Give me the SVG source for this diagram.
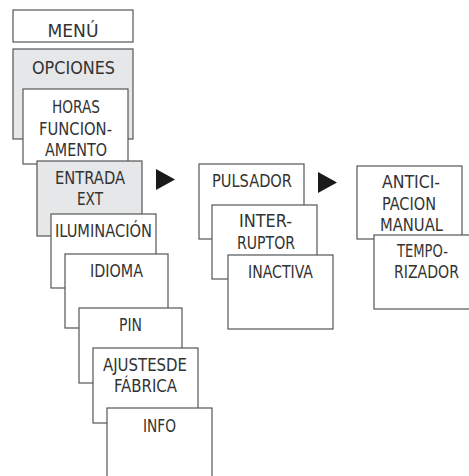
<svg xmlns="http://www.w3.org/2000/svg" width="469" height="476" viewBox="0 0 469 476">
<style>
.b{fill:#ffffff;stroke:#555555;stroke-width:1.2}
.g{fill:#e6e7e9;stroke:#555555;stroke-width:1.2}
text{font-family:"DejaVu Sans Condensed","DejaVu Sans",sans-serif;font-stretch:condensed;font-size:17.5px;fill:#333333;text-anchor:middle}
.a{fill:#1a1a1a}
</style>
<rect width="469" height="476" fill="#ffffff"/>
<g id="menu"><rect class="b" x="13" y="10" width="120" height="32"/><text x="73" y="37" textLength="51" lengthAdjust="spacingAndGlyphs">MENÚ</text></g>
<g id="opciones"><rect class="g" x="13" y="49" width="120" height="90"/><text x="73.5" y="74" textLength="83" lengthAdjust="spacingAndGlyphs">OPCIONES</text></g>
<g id="horas"><rect class="b" x="23" y="89" width="105" height="75"/><text x="76" y="113" textLength="48" lengthAdjust="spacingAndGlyphs">HORAS</text><text x="75.5" y="135" textLength="73" lengthAdjust="spacingAndGlyphs">FUNCION-</text><text x="76" y="156" textLength="62" lengthAdjust="spacingAndGlyphs">AMENTO</text></g>
<g id="entrada"><rect class="g" x="37" y="161" width="105" height="75"/><text x="90" y="184" textLength="70" lengthAdjust="spacingAndGlyphs">ENTRADA</text><text x="90" y="205" textLength="26" lengthAdjust="spacingAndGlyphs">EXT</text></g>
<g id="iluminacion"><rect class="b" x="51" y="214" width="105" height="74"/><text x="103.5" y="237" textLength="97" lengthAdjust="spacingAndGlyphs">ILUMINACIÓN</text></g>
<g id="idioma"><rect class="b" x="65" y="254" width="103" height="74"/><text x="116.5" y="277" textLength="53" lengthAdjust="spacingAndGlyphs">IDIOMA</text></g>
<g id="pin"><rect class="b" x="79" y="308" width="103" height="75"/><text x="130.5" y="331" textLength="23" lengthAdjust="spacingAndGlyphs">PIN</text></g>
<g id="ajustes"><rect class="b" x="93" y="348" width="105" height="75"/><text x="145" y="371" textLength="84" lengthAdjust="spacingAndGlyphs">AJUSTESDE</text><text x="145.5" y="392" textLength="63" lengthAdjust="spacingAndGlyphs">FÁBRICA</text></g>
<g id="info"><rect class="b" x="107" y="408" width="105" height="80"/><text x="159.5" y="432" textLength="33" lengthAdjust="spacingAndGlyphs">INFO</text></g>
<g id="pulsador"><rect class="b" x="199" y="164" width="105" height="75"/><text x="252" y="187" textLength="80" lengthAdjust="spacingAndGlyphs">PULSADOR</text></g>
<g id="interruptor"><rect class="b" x="212" y="205" width="105" height="74"/><text x="265.5" y="227" textLength="53" lengthAdjust="spacingAndGlyphs">INTER-</text><text x="266" y="249" textLength="58" lengthAdjust="spacingAndGlyphs">RUPTOR</text></g>
<g id="inactiva"><rect class="b" x="228" y="255" width="105" height="74"/><text x="280.5" y="278" textLength="65" lengthAdjust="spacingAndGlyphs">INACTIVA</text></g>
<g id="anticipacion"><rect class="b" x="357" y="166" width="105" height="73"/><text x="411" y="188" textLength="58" lengthAdjust="spacingAndGlyphs">ANTICI-</text><text x="409" y="210" textLength="54" lengthAdjust="spacingAndGlyphs">PACION</text><text x="411.5" y="231" textLength="63" lengthAdjust="spacingAndGlyphs">MANUAL</text></g>
<g id="temporizador"><rect class="b" x="374" y="235" width="105" height="74"/><text x="422.5" y="257" textLength="51" lengthAdjust="spacingAndGlyphs">TEMPO-</text><text x="426.5" y="278" textLength="65" lengthAdjust="spacingAndGlyphs">RIZADOR</text></g>
<g id="connectors"><polygon class="a" points="156,169 175,179.5 156,190"/><polygon class="a" points="318,172 337,182.5 318,193"/></g>
</svg>
